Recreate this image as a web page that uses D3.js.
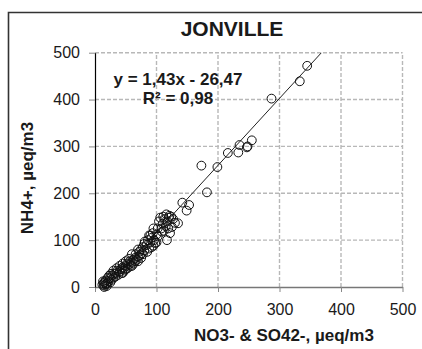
<!DOCTYPE html>
<html>
<head>
<meta charset="utf-8">
<script src="https://cdn.jsdelivr.net/npm/d3@7"></script>
<style>
  html, body { margin: 0; padding: 0; background: #fff; }
  svg { display: block; }
  text { font-family: "Liberation Sans", Arial, sans-serif; fill: #1a1a1a; }
</style>
</head>
<body>
<script>
// NO3- + SO42- (x) against NH4+ (y), µeq/m3, Jonville
const xValues = [12,14,15,16,18,13,20,17,22,19,24,25,21,27,15,23,26,
  28,30,32,33,35,36,38,40,42,44,45,47,48,50,52,53,55,57,58,60,62,63,65,66,68,70,
  72,73,75,76,78,80,81,84,86,88,90,92,94,96,98,100,102,
  40,45,50,55,60,65,70,75,80,85,90,95,60,50,35,30,45,70,78,88,92,100,102,95,
  104,106,108,110,111,113,115,116,118,120,122,124,125,127,130,112,119,135,109,121,
  117,142,153,149,182,173,199,216,233,235,247,248,255,287,333,345];
const yValues = [5,8,3,10,6,12,8,14,12,2,18,10,20,15,0,24,28,
  25,20,28,22,30,35,26,33,38,30,42,40,35,45,50,40,48,55,45,52,58,50,62,70,58,65,
  75,68,80,72,85,78,97,90,100,82,95,105,115,100,94,112,108,
  45,30,38,60,45,55,80,62,92,75,110,88,70,55,40,35,50,55,70,110,85,95,125,125,
  140,148,125,135,150,145,130,155,140,148,115,150,128,145,137,120,125,136,118,152,
  100,180,175,163,202,259,256,286,287,303,298,300,313,402,439,472];

const xTicks = [0,100,200,300,400,500];
const yTicks = [0,100,200,300,400,500];
const slope = 1.43, intercept = -26.47;
const equationText = "y = 1,43x - 26,47";
const r2Text = "R² = 0,98";
const titleText = "JONVILLE";
const xTitle = "NO3- & SO42-, µeq/m3";
const yTitle = "NH4+, µeq/m3";

const W = 422, H = 349;
const svg = d3.select("body").append("svg").attr("width", W).attr("height", H);

const x = d3.scaleLinear().domain([0, 500]).range([95, 402.5]);
const y = d3.scaleLinear().domain([0, 500]).range([287, 52.7]);

// outer frame (top and left edges fall inside the window)
svg.append("path")
  .attr("d", `M8.5,${H} L8.5,12.5 L${W},12.5`)
  .attr("fill", "none").attr("stroke", "#333").attr("stroke-width", 1.6);

// dashed gridlines
const grid = svg.append("g").attr("stroke", "#b8b8b8").attr("stroke-width", 1.4)
  .attr("stroke-dasharray", "4,2");
grid.selectAll(".gx").data(xTicks.filter(d => d > 0)).join("line")
  .attr("x1", d => x(d)).attr("x2", d => x(d)).attr("y1", y(0)).attr("y2", y(500));
grid.selectAll(".gy").data(yTicks.filter(d => d > 0)).join("line")
  .attr("x1", x(0)).attr("x2", x(500)).attr("y1", d => y(d)).attr("y2", d => y(d));

// x axis
const xAxis = svg.append("g").attr("transform", `translate(0,${y(0)})`)
  .call(d3.axisBottom(x).tickValues(xTicks).tickSize(5).tickPadding(12).tickSizeOuter(0));
xAxis.select(".domain").attr("stroke", "#777").attr("stroke-width", 1.4);
xAxis.selectAll(".tick line").attr("stroke", "#888");
xAxis.selectAll("text").attr("font-size", 16).attr("fill", "#1a1a1a")
  .style("font-family", "Liberation Sans, Arial, sans-serif");

// y axis
const yAxis = svg.append("g").attr("transform", `translate(${x(0)},0)`)
  .call(d3.axisLeft(y).tickValues(yTicks).tickSize(6).tickPadding(9).tickSizeOuter(0));
yAxis.select(".domain").attr("stroke", "#000").attr("stroke-width", 1.2);
yAxis.selectAll(".tick line").attr("stroke", "#888");
yAxis.selectAll("text").attr("font-size", 16).attr("fill", "#1a1a1a")
  .style("font-family", "Liberation Sans, Arial, sans-serif");

// clip region for the trend line
svg.append("clipPath").attr("id", "plot").append("rect")
  .attr("x", x(0)).attr("y", y(500)).attr("width", x(500) - x(0)).attr("height", y(0) - y(500));

// linear trend line
const x0 = -intercept / slope, x1 = (500 - intercept) / slope;
svg.append("line").attr("clip-path", "url(#plot)")
  .attr("x1", x(x0)).attr("y1", y(slope * x0 + intercept))
  .attr("x2", x(x1)).attr("y2", y(slope * x1 + intercept))
  .attr("stroke", "#222").attr("stroke-width", 1);

// observations
const points = xValues.map((v, i) => [v, yValues[i]]);
svg.append("g").selectAll("circle").data(points).join("circle")
  .attr("cx", d => x(d[0])).attr("cy", d => y(d[1])).attr("r", 4.4)
  .attr("fill", "none").attr("stroke", "#111").attr("stroke-width", 1);

// titles and regression labels
svg.append("text").attr("x", 232).attr("y", 36).attr("text-anchor", "middle")
  .attr("font-size", 21).attr("font-weight", "bold").text(titleText);
svg.append("text").attr("x", 178).attr("y", 85).attr("text-anchor", "middle")
  .attr("font-size", 17).attr("font-weight", "bold").text(equationText);
svg.append("text").attr("x", 178).attr("y", 104).attr("text-anchor", "middle")
  .attr("font-size", 17).attr("font-weight", "bold").text(r2Text);
svg.append("text").attr("x", 284).attr("y", 341).attr("text-anchor", "middle")
  .attr("font-size", 17).attr("font-weight", "bold").text(xTitle);
svg.append("text").attr("transform", "translate(33,178) rotate(-90)").attr("text-anchor", "middle")
  .attr("font-size", 17).attr("font-weight", "bold").text(yTitle);
</script>
</body>
</html>
